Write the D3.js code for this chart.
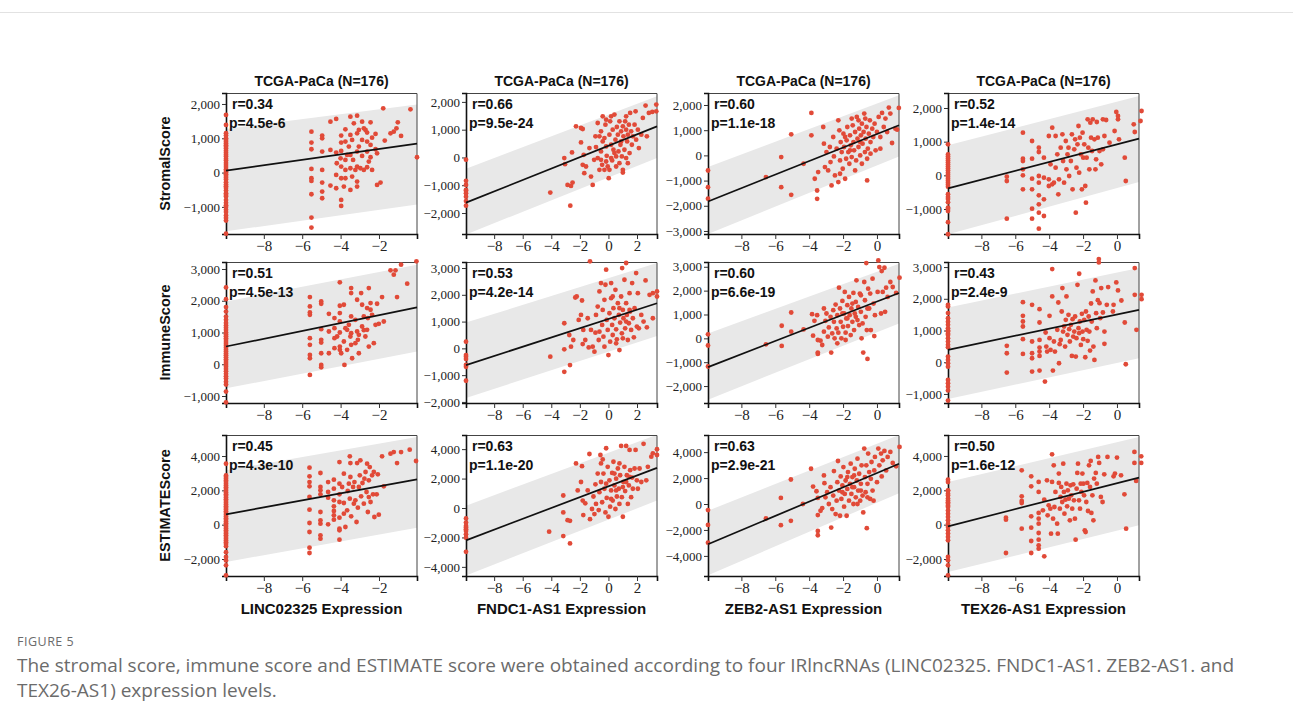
<!DOCTYPE html>
<html lang="en">
<head>
<meta charset="UTF-8">
<title>Figure 5</title>
<style>
html, body { margin: 0; padding: 0; background: #fff; }
svg { display: block; }
.tick text.ylab { font-family: "Liberation Serif", "DejaVu Serif", serif; font-size: 13px; fill: #222; }
.tick text.xlab { font-family: "Liberation Serif", "DejaVu Serif", serif; font-size: 15px; fill: #222; }
.bold { font-family: "Liberation Sans", Arial, sans-serif; font-weight: bold; fill: #111; }
.caption { font-family: "Open Sans", "Noto Sans", sans-serif; fill: #6b6b6b; }
</style>
</head>
<body>
<div id="graph"></div>
<script src="https://d3js.org/d3.v7.min.js"></script>
<script>
// log2(0.001): samples with undetected expression
const X0 = -9.97;

const genes = ["LINC02325", "FNDC1-AS1", "ZEB2-AS1", "TEX26-AS1"];
const scores = ["StromalScore", "ImmuneScore", "ESTIMATEScore"];

const rLabels = [["0.34", "0.66", "0.60", "0.52"], ["0.51", "0.53", "0.60", "0.43"], ["0.45", "0.63", "0.63", "0.50"]];
const pLabels = [["4.5e-6", "9.5e-24", "1.1e-18", "1.4e-14"], ["4.5e-13", "4.2e-14", "6.6e-19", "2.4e-9"], ["4.3e-10", "1.1e-20", "2.9e-21", "1.6e-12"]];

const xDomains = [[-9.97, -0.02], [-9.97, 3.4], [-9.97, 1.3], [-9.97, 1.3]];
const xTicks = [[-8, -6, -4, -2], [-8, -6, -4, -2, 0, 2], [-8, -6, -4, -2, 0], [-8, -6, -4, -2, 0]];

const yDomains = [
  [[-1790, 2320], [-2755, 2320], [-3120, 2476], [-1742, 2445]],
  [[-1220, 3220], [-2040, 3225], [-2710, 3200], [-1285, 3160]],
  [[-2990, 5225], [-4620, 4960], [-5550, 5320], [-2990, 5220]]
];
const yTicks = [
  [[-1000, 0, 1000, 2000], [-2000, -1000, 0, 1000, 2000], [-3000, -2000, -1000, 0, 1000, 2000], [-1000, 0, 1000, 2000]],
  [[-1000, 0, 1000, 2000, 3000], [-2000, -1000, 0, 1000, 2000, 3000], [-2000, -1000, 0, 1000, 2000, 3000], [-1000, 0, 1000, 2000, 3000]],
  [[-2000, 0, 2000, 4000], [-4000, -2000, 0, 2000, 4000], [-4000, -2000, 0, 2000, 4000], [-2000, 0, 2000, 4000]]
];

// regression line and interval band, values at left / right end of x range
const fitLine = [
  [[58, 845], [-1627, 1120], [-1830, 1194], [-386, 1089]],
  [[558, 1789], [-625, 1687], [-1208, 1903], [389, 1653]],
  [[602, 2641], [-2200, 2729], [-3109, 3109], [-97, 2738]]
];
const bandUpper = [
  [[1274, 1983], [-410, 2205], [-464, 2387], [891, 2356]],
  [[1979, 3137], [962, 3187], [208, 3125], [1726, 2968]],
  [[3165, 5107], [160, 4977], [-518, 5311], [2485, 5107]]
];
const bandLower = [
  [[-1711, -933], [-2771, -24], [-3117, -40], [-1752, -198]],
  [[-758, 400], [-1850, 462], [-2569, 625], [-1158, 126]],
  [[-2175, -175], [-4587, 505], [-5492, 829], [-2757, -39]]
];

// ---- StromalScore ----
const stromal_LINC02325_zero = [1680, 1390, 1150, 1080, 1000, 950, 900, 850, 800, 750, 700, 640, 580, 520, 470, 400, 350, 280, 220, 160, 100, 50, 0, -50, -100, -150, -200, -280, -350, -400, -450, -520, -600, -650, -700, -800, -880, -950, -1000, -1080, -1150, -1250, -1320, -1400, -1780];
const stromal_LINC02325 = [[-5.52,1194],[-5.52,874],[-5.52,680],[-5.52,107],[-5.52,-165],[-5.52,-243],[-5.52,-631],[-5.52,-1311],[-5.52,-1602],[-4.96,1078],[-4.96,1000],[-4.96,612],[-4.96,78],[-4.96,-291],[-4.96,-553],[-4.96,-748],[-4.53,1485],[-4.53,660],[-4.53,-379],[-4.23,1563],[-4.23,583],[-4.23,-68],[-4.23,-456],[-3.97,1078],[-3.97,874],[-3.97,631],[-3.97,175],[-3.97,-165],[-3.97,-796],[-3.97,-971],[-3.75,1262],[-3.75,903],[-3.75,369],[-3.75,78],[-3.75,-165],[-3.49,1631],[-3.49,1097],[-3.49,515],[-3.49,126],[-3.49,-505],[-3.4,951],[-3.4,-117],[-3.14,1660],[-3.14,1146],[-3.14,612],[-3.14,175],[-3.14,-262],[-3.14,-408],[-3.05,757],[-2.97,126],[-2.88,1485],[-2.88,951],[-2.88,485],[-2.79,1291],[-2.7,1243],[-2.62,1165],[-2.62,903],[-2.62,612],[-2.62,155],[-2.44,1466],[-2.44,806],[-2.44,447],[-2.36,1019],[-2.18,1126],[-2.18,680],[-2.1,563],[-2.1,-359],[-1.92,-291],[-1.78,1874],[-1.7,932],[-1.4,1146],[-1.23,1194],[-1.09,1291],[-1.02,1466],[-0.85,1068],[-0.36,1845],[-0.02,447],[-3.66,515],[-3.35,369],[-3.23,78],[-2.79,78],[-4.0,417],[-4.2,272],[-3.57,757],[-2.53,320],[-3.05,1243],[-3.31,1437],[-2.36,78],[-3.83,-408]];

const stromal_FNDC1_zero = [-80, -840, -990, -1170, -1200, -1290, -1410, -1570, -1735];
const stromal_FNDC1 = [[-4.07,-1265],[-3.09,-24],[-3.04,-241],[-2.86,-988],[-2.62,-1024],[-2.51,-904],[-2.55,181],[-2.27,1120],[-2.67,-1735],[-1.92,1060],[-1.8,1024],[-1.92,542],[-1.8,-265],[-1.69,-566],[-1.73,96],[-1.57,-325],[-1.33,337],[-1.22,-687],[-1.1,-988],[-1.0,-84],[-0.91,759],[-0.87,373],[-0.75,1241],[-0.75,-24],[-0.63,-446],[-0.52,940],[-0.52,217],[-0.44,-265],[-0.4,1482],[-0.28,699],[-0.28,-446],[-0.21,1181],[-0.16,398],[-0.12,60],[-0.05,-325],[0.02,-747],[0.07,819],[0.12,1301],[0.19,458],[0.19,-24],[0.26,-108],[0.3,1000],[0.35,277],[0.42,1542],[0.49,639],[0.54,36],[0.59,1096],[0.66,819],[0.7,217],[0.77,1301],[0.77,-205],[0.84,458],[0.89,940],[0.94,36],[1.01,1120],[1.01,-446],[1.05,759],[1.12,277],[1.17,1301],[1.24,1000],[1.24,-24],[1.31,578],[1.36,819],[1.43,1181],[1.48,157],[1.52,1602],[1.59,940],[1.64,458],[1.71,759],[1.83,1181],[1.9,1662],[1.94,639],[2.06,1000],[2.13,337],[2.3,819],[2.41,1422],[2.6,1867],[2.69,759],[2.83,1602],[3.07,1639],[3.35,1904],[3.35,1662],[1.36,-205],[1.01,-542],[0.42,157],[0.89,578],[-0.16,1361],[-0.4,578],[-0.63,759],[1.24,1482],[0.19,1482],[-0.16,-145],[0.54,-325],[0.07,-446],[-0.52,-84]];

const stromal_ZEB2_zero = [-600, -1260, -1720];
const stromal_ZEB2 = [[-6.55,-862],[-5.65,-66],[-5.65,-1260],[-5.06,836],[-5.06,-1565],[-4.33,-332],[-3.87,1684],[-3.87,796],[-3.67,-928],[-3.53,-1393],[-3.53,-1724],[-3.47,-663],[-3.17,1127],[-3.13,464],[-3.07,-464],[-2.98,133],[-2.88,-597],[-2.78,332],[-2.74,-265],[-2.68,-1194],[-2.58,729],[-2.54,-40],[-2.48,-796],[-2.38,265],[-2.28,1393],[-2.28,-1061],[-2.22,995],[-2.18,-199],[-2.14,530],[-2.08,133],[-2.02,-530],[-1.98,862],[-1.94,332],[-1.88,-928],[-1.82,-133],[-1.79,597],[-1.75,1127],[-1.69,133],[-1.63,-332],[-1.59,796],[-1.55,398],[-1.49,-66],[-1.43,1194],[-1.39,530],[-1.35,199],[-1.29,928],[-1.23,-199],[-1.19,1525],[-1.15,663],[-1.09,332],[-1.05,1061],[-0.99,0],[-0.95,796],[-0.89,1260],[-0.85,464],[-0.79,928],[-0.75,1658],[-0.71,133],[-0.67,663],[-0.62,1127],[-0.58,-995],[-0.54,265],[-0.48,862],[-0.42,1393],[-0.38,530],[-0.28,1061],[-0.22,729],[-0.14,1260],[-0.08,199],[0.0,928],[0.1,1525],[0.2,729],[0.3,1684],[0.4,1127],[0.5,1459],[0.6,928],[0.7,1897],[0.79,1658],[0.89,491],[1.09,1061],[1.29,1883],[1.19,1021],[-1.88,729],[-1.49,1459],[-1.09,1393],[-0.99,530],[-0.58,-133],[-1.29,-597],[-2.18,-729],[-0.89,-332],[-0.38,66],[0.2,265],[-0.69,1459],[-1.59,199]];

const stromal_TEX26_zero = [921, 620, 560, 500, 440, 380, 320, 260, 200, 140, 80, 20, -40, -100, -160, -220, -280, -340, -560, -640, -700, -800, -960, -1000, -1060, -1390, -1750];
const stromal_TEX26 = [[-6.5,-40],[-6.5,-168],[-6.5,-1287],[-5.55,1267],[-5.55,495],[-5.55,426],[-5.55,178],[-5.55,0],[-5.55,-416],[-5.01,1020],[-5.01,495],[-5.01,-99],[-5.01,-416],[-5.01,-990],[-5.01,-1287],[-4.61,822],[-4.61,693],[-4.61,-20],[-4.61,-218],[-4.61,-594],[-4.61,-861],[-4.61,-1109],[-4.61,-1584],[-4.31,525],[-4.31,-69],[-4.31,-713],[-4.31,-1208],[-4.02,1168],[-4.02,-119],[-4.02,-317],[-3.92,327],[-3.82,1416],[-3.82,-267],[-3.72,-218],[-3.62,1168],[-3.62,228],[-3.52,624],[-3.46,-564],[-3.42,-119],[-3.32,822],[-3.22,1218],[-3.18,426],[-3.12,-218],[-3.02,1020],[-2.98,178],[-2.92,624],[-2.86,822],[-2.82,-20],[-2.72,426],[-2.66,1218],[-2.62,-416],[-2.52,772],[-2.47,1069],[-2.43,-1109],[-2.39,228],[-2.33,921],[-2.27,1465],[-2.23,79],[-2.19,1119],[-2.13,624],[-2.07,-416],[-2.03,1267],[-1.99,525],[-1.93,921],[-1.87,-317],[-1.83,-812],[-1.79,525],[-1.73,1663],[-1.69,822],[-1.63,178],[-1.57,1564],[-1.53,1119],[-1.47,723],[-1.43,1663],[-1.33,1069],[-1.27,178],[-1.19,1584],[-1.13,1119],[-1.03,723],[-0.93,327],[-0.83,1663],[-0.74,1168],[-0.64,1643],[-0.14,1317],[-0.04,1881],[0.06,1762],[0.12,1069],[0.46,525],[0.52,-168],[0.99,1515],[1.05,1287],[1.45,1911],[1.39,1614],[0.06,1663],[-0.44,970],[-0.83,772],[-1.23,475]];

// ---- ImmuneScore ----
const immune_LINC02325_zero = [2420, 2050, 1800, 1660, 1500, 1400, 1300, 1220, 1150, 1080, 1000, 940, 880, 820, 760, 700, 640, 580, 520, 460, 400, 340, 280, 220, 160, 100, 40, -20, -80, -150, -220, -300, -380, -450, -550, -640, -860, -1200];
const immune_LINC02325 = [[-5.6,2116],[-5.6,1821],[-5.6,1632],[-5.6,1558],[-5.6,821],[-5.6,611],[-5.6,295],[-5.6,189],[-5.6,-337],[-5.01,1979],[-5.01,1905],[-5.01,1105],[-5.01,768],[-5.01,684],[-5.01,347],[-5.01,-21],[-5.01,-95],[-4.61,1589],[-4.61,1032],[-4.61,347],[-4.32,1453],[-4.32,1137],[-4.32,821],[-4.32,505],[-4.04,2579],[-4.04,1842],[-4.04,1611],[-4.04,1347],[-4.04,1000],[-4.04,558],[-4.04,453],[-3.97,347],[-3.83,1874],[-3.83,716],[-3.8,-21],[-3.66,1084],[-3.57,1242],[-3.45,2400],[-3.45,2242],[-3.45,1505],[-3.45,979],[-3.45,611],[-3.4,189],[-3.23,1400],[-3.14,2032],[-3.14,1032],[-3.1,768],[-3.05,347],[-2.93,2242],[-2.88,1874],[-2.88,1189],[-2.79,1505],[-2.71,874],[-2.62,1768],[-2.58,1453],[-2.53,2400],[-2.53,558],[-2.44,1926],[-2.36,1558],[-2.27,663],[-2.18,1242],[-2.1,1905],[-2.01,1274],[-1.84,2116],[-1.75,1347],[-1.06,2116],[-1.23,2821],[-1.14,2958],[-0.85,3137],[-0.53,2537],[-0.05,3242],[-1.4,2958],[-3.05,926],[-3.49,874],[-3.75,1137],[-2.79,1074],[-2.44,1716],[-3.23,663],[-3.66,453],[-4.18,874],[-2.62,1084]];

const immune_FNDC1_zero = [250, -250, -310, -400, -620, -690, -1210];
const immune_FNDC1 = [[-4.07,-312],[-3.09,937],[-3.09,-37],[-3.09,-875],[-2.74,500],[-2.62,62],[-2.69,-625],[-2.46,312],[-2.32,1900],[-2.22,1937],[-2.08,1062],[-1.92,1250],[-1.85,1787],[-1.8,162],[-1.76,687],[-1.62,312],[-1.45,1125],[-1.38,37],[-1.29,3250],[-1.22,687],[-1.1,62],[-0.98,-125],[-0.91,587],[-0.87,1250],[-0.75,1562],[-0.68,312],[-0.63,2125],[-0.52,2437],[-0.44,875],[-0.4,1437],[-0.35,437],[-0.28,1812],[-0.21,2375],[-0.16,2937],[-0.12,1062],[-0.05,687],[0.0,-250],[0.07,1312],[0.12,250],[0.19,1875],[0.26,875],[0.3,500],[0.35,1500],[0.42,1125],[0.49,2187],[0.54,712],[0.59,337],[0.66,1687],[0.73,1250],[0.77,-62],[0.82,962],[0.89,1937],[0.94,562],[0.96,3000],[1.01,1437],[1.05,1125],[1.12,2562],[1.17,750],[1.24,3187],[1.24,1687],[1.29,1250],[1.36,312],[1.43,937],[1.48,2062],[1.52,1375],[1.59,687],[1.66,2437],[1.71,1125],[1.78,412],[1.83,1500],[1.94,2812],[1.99,812],[2.06,2062],[2.13,750],[2.3,1250],[2.46,1000],[2.6,2537],[2.69,787],[2.88,2000],[3.11,2062],[3.11,1125],[3.4,2125],[3.4,1937],[0.3,1937],[0.77,1500],[-0.28,62],[1.24,1000],[1.01,375],[0.19,2437],[0.54,187],[1.48,1437],[-0.63,625]];

const immune_ZEB2_zero = [170, -300, -1180];
const immune_ZEB2 = [[-6.55,-250],[-5.62,528],[-5.62,-319],[-5.06,1083],[-5.06,278],[-4.33,375],[-3.83,1014],[-3.77,111],[-3.69,736],[-3.53,972],[-3.49,-69],[-3.49,-597],[-3.49,-653],[-3.33,-97],[-3.23,-278],[-3.13,1250],[-3.13,278],[-3.04,736],[-2.98,1042],[-2.9,69],[-2.84,458],[-2.74,903],[-2.7,-597],[-2.64,208],[-2.58,1180],[-2.54,694],[-2.5,0],[-2.44,1417],[-2.38,417],[-2.34,972],[-2.28,236],[-2.24,2125],[-2.18,1250],[-2.14,694],[-2.1,0],[-2.04,1569],[-2.0,486],[-1.94,1042],[-1.9,1944],[-1.85,236],[-1.81,833],[-1.75,1389],[-1.71,514],[-1.65,1736],[-1.61,972],[-1.55,139],[-1.51,1250],[-1.45,694],[-1.39,1903],[-1.35,347],[-1.31,1042],[-1.25,1528],[-1.21,2431],[-1.15,764],[-1.11,1319],[-1.05,556],[-1.01,1875],[-0.95,1111],[-0.91,0],[-0.85,625],[-0.81,-597],[-0.75,2361],[-0.71,1597],[-0.67,903],[-0.63,3153],[-0.6,347],[-0.56,-861],[-0.52,2083],[-0.46,1250],[-0.4,1875],[-0.36,347],[-0.26,2500],[-0.2,1458],[-0.16,97],[-0.12,972],[0.04,1944],[0.08,3264],[0.14,2986],[0.24,1042],[0.28,2819],[0.34,1944],[0.44,2958],[0.48,1111],[0.54,2125],[0.63,1736],[0.79,2361],[0.93,2153],[1.13,1903],[1.33,2542],[-1.75,833],[-1.25,903],[-0.95,1806],[-2.04,1042],[-2.34,-208],[-1.45,1458],[-0.56,1250],[-1.85,-69]];

const immune_TEX26_zero = [1810, 1760, 1550, 1390, 1280, 1180, 1070, 1000, 970, 900, 860, 760, 650, 550, 470, 180, 70, -30, -140, -560, -660, -770, -890, -1210];
const immune_TEX26 = [[-6.5,516],[-6.5,284],[-6.5,-326],[-5.55,1895],[-5.55,1463],[-5.55,1284],[-5.55,1126],[-5.55,726],[-5.55,263],[-5.01,1810],[-5.01,653],[-5.01,284],[-5.01,126],[-5.01,-295],[-4.57,1674],[-4.57,1253],[-4.57,705],[-4.57,463],[-4.57,337],[-4.57,200],[-4.57,-263],[-4.25,-610],[-4.21,937],[-4.17,495],[-4.12,337],[-3.98,1463],[-3.98,758],[-3.92,389],[-3.82,2937],[-3.82,2074],[-3.78,-263],[-3.72,653],[-3.66,337],[-3.52,1021],[-3.46,1884],[-3.42,-32],[-3.38,568],[-3.32,705],[-3.26,1600],[-3.22,2337],[-3.18,968],[-3.12,1126],[-3.06,495],[-3.02,1337],[-2.98,2074],[-2.92,863],[-2.86,1495],[-2.82,1042],[-2.78,653],[-2.72,1179],[-2.66,200],[-2.62,1358],[-2.58,810],[-2.52,968],[-2.47,1442],[-2.43,179],[-2.39,758],[-2.33,2442],[-2.27,1073],[-2.23,2789],[-2.23,916],[-2.19,1284],[-2.13,547],[-2.07,1526],[-2.03,968],[-1.99,726],[-1.93,1337],[-1.87,158],[-1.83,1600],[-1.79,1021],[-1.73,674],[-1.67,1442],[-1.63,968],[-1.59,368],[-1.53,1852],[-1.49,1284],[-1.43,2232],[-1.39,495],[-1.33,74],[-1.27,2579],[-1.23,1547],[-1.19,1073],[-1.13,1958],[-1.07,3253],[-1.07,3147],[-1.03,1863],[-0.99,1389],[-0.93,2337],[-0.83,1568],[-0.74,968],[-0.74,579],[-0.6,1810],[-0.52,2368],[-0.24,1600],[-0.2,1810],[-0.04,2516],[0.06,2263],[0.26,1947],[0.46,1253],[0.52,-63],[1.05,2968],[1.05,2126],[1.15,1021],[1.45,2126],[1.45,1989]];

// ---- ESTIMATEScore ----
const estimate_LINC02325_zero = [3550, 2870, 2780, 2680, 2580, 2480, 2380, 2280, 2180, 2080, 1980, 1880, 1780, 1680, 1580, 1480, 1380, 1280, 1180, 1080, 980, 880, 780, 680, 580, 480, 380, 280, 180, 80, -20, -120, -220, -320, -420, -520, -620, -720, -820, -920, -1020, -1120, -1250, -1600, -1880, -2080, -2370, -2950];
const estimate_LINC02325 = [[-5.62,3320],[-5.62,2816],[-5.62,2485],[-5.62,2233],[-5.62,1612],[-5.62,874],[-5.62,97],[-5.62,-427],[-5.62,-1340],[-5.62,-1650],[-5.05,3010],[-5.05,2194],[-5.05,2000],[-5.05,1767],[-5.05,738],[-5.05,252],[-5.05,58],[-5.05,-621],[-5.05,-816],[-4.65,2485],[-4.65,1903],[-4.65,1573],[-4.65,19],[-4.35,2621],[-4.35,2097],[-4.35,1417],[-4.35,1068],[-4.35,796],[-4.35,544],[-4.35,291],[-4.06,3650],[-4.06,2388],[-4.06,1767],[-4.06,1320],[-4.06,408],[-4.06,-233],[-4.06,-330],[-4.06,-874],[-3.83,2971],[-3.83,1262],[-3.83,641],[-3.75,-136],[-3.63,1961],[-3.57,2388],[-3.52,3981],[-3.52,1515],[-3.49,3592],[-3.45,485],[-3.35,2194],[-3.28,2485],[-3.23,1417],[-3.17,155],[-3.14,3592],[-3.1,990],[-3.0,2874],[-2.97,3748],[-2.93,1650],[-2.86,2427],[-2.79,1223],[-2.76,2680],[-2.7,3068],[-2.65,1903],[-2.62,3553],[-2.58,738],[-2.53,2582],[-2.48,3359],[-2.44,1320],[-2.36,2874],[-2.31,1767],[-2.27,3068],[-2.24,447],[-2.12,1767],[-2.06,2932],[-2.01,583],[-1.84,3981],[-1.75,2233],[-1.4,4136],[-1.23,4233],[-1.06,3592],[-0.85,4233],[-0.4,4369],[-0.07,3709],[-3.66,835],[-3.31,1223],[-3.05,2194],[-3.49,2777],[-3.92,2194],[-2.53,1611]];

const estimate_FNDC1_zero = [-710, -990, -1220, -1330, -1450, -1560, -1790, -2020, -2980];
const estimate_FNDC1 = [[-4.15,-1606],[-3.16,849],[-3.16,-298],[-3.16,-1904],[-2.86,-826],[-2.69,-872],[-2.69,-2408],[-2.27,3028],[-2.15,1193],[-1.92,1766],[-1.85,2844],[-1.8,505],[-1.76,-482],[-1.62,321],[-1.45,1193],[-1.33,3670],[-1.29,-757],[-1.15,-69],[-1.05,780],[-0.98,-413],[-0.91,1606],[-0.87,275],[-0.75,2339],[-0.68,-138],[-0.63,1078],[-0.56,3601],[-0.52,1766],[-0.44,390],[-0.4,3303],[-0.35,2339],[-0.28,1307],[-0.21,-298],[-0.16,4060],[-0.12,688],[-0.05,2798],[0.0,-596],[0.07,1881],[0.12,92],[0.19,1193],[0.26,2385],[0.3,505],[0.35,3142],[0.42,1537],[0.49,-69],[0.54,1995],[0.59,780],[0.66,2683],[0.73,1307],[0.77,275],[0.82,2224],[0.89,4220],[0.94,734],[1.01,-596],[1.05,1766],[1.12,2798],[1.17,1147],[1.24,4220],[1.29,2224],[1.36,275],[1.43,1537],[1.48,3945],[1.52,2569],[1.59,734],[1.66,2064],[1.71,1307],[1.83,2683],[1.9,3945],[1.99,1881],[2.06,1307],[2.18,2683],[2.3,1766],[2.46,4358],[2.65,1881],[2.76,2798],[3.0,3486],[3.11,3716],[3.4,3991],[3.4,3601],[0.77,3028],[0.42,2339],[1.01,1422],[-0.16,1651],[0.19,620],[1.24,1766],[0.54,1193],[1.48,2110],[-0.52,3028]];

const estimate_ZEB2_zero = [-470, -1610, -2980];
const estimate_ZEB2 = [[-6.55,-1114],[-5.67,466],[-5.67,-1632],[-5.08,1891],[-5.08,-1295],[-4.37,0],[-3.89,2720],[-3.77,1347],[-3.57,984],[-3.49,466],[-3.49,-855],[-3.49,-2073],[-3.49,-2409],[-3.33,-518],[-3.23,-311],[-3.13,2202],[-3.1,1606],[-3.04,518],[-2.94,907],[-2.84,0],[-2.74,1295],[-2.7,-1813],[-2.64,-389],[-2.58,648],[-2.54,2539],[-2.44,-777],[-2.38,259],[-2.34,1684],[-2.3,3316],[-2.24,1036],[-2.18,-907],[-2.14,2124],[-2.1,389],[-2.04,1425],[-1.98,2850],[-1.94,-207],[-1.9,777],[-1.85,1813],[-1.79,-907],[-1.75,1166],[-1.71,2461],[-1.65,259],[-1.59,1554],[-1.55,3109],[-1.51,777],[-1.45,2073],[-1.39,0],[-1.35,1295],[-1.31,2720],[-1.25,518],[-1.19,1813],[-1.15,3497],[-1.11,1036],[-1.05,2332],[-0.99,259],[-0.95,1554],[-0.91,2979],[-0.85,648],[-0.81,-648],[-0.75,4275],[-0.71,2073],[-0.67,907],[-0.63,2979],[-0.6,-1865],[-0.56,1554],[-0.52,3886],[-0.46,2461],[-0.4,389],[-0.36,1943],[-0.32,3238],[-0.26,1036],[-0.2,259],[-0.16,2591],[-0.12,3627],[0.0,1684],[0.08,4275],[0.14,2979],[0.24,3886],[0.28,2124],[0.34,3368],[0.44,4093],[0.54,2591],[0.63,3627],[0.79,4016],[0.93,3161],[1.13,2902],[1.33,4404],[-1.75,2073],[-1.35,2202],[-0.95,1036],[-0.56,518],[-2.04,907],[-1.15,0],[-1.45,1295]];

const estimate_TEX26_zero = [2620, 2480, 2000, 1960, 1800, 1700, 1520, 1400, 1300, 1220, 1100, 1030, 830, 640, 450, 250, 50, -140, -330, -520, -720, -910, -1880, -2080, -2370, -2950];
const estimate_TEX26 = [[-6.55,408],[-6.55,291],[-6.55,-1650],[-5.62,3165],[-5.62,1650],[-5.62,1379],[-5.62,1262],[-5.62,-233],[-5.06,2815],[-5.06,2233],[-5.06,485],[-5.06,-175],[-5.06,-951],[-5.06,-1650],[-4.62,2485],[-4.62,1903],[-4.62,680],[-4.62,350],[-4.62,58],[-4.62,-485],[-4.62,-874],[-4.62,-1204],[-4.62,-1398],[-4.37,835],[-4.29,1456],[-4.29,-1844],[-4.13,2583],[-4.09,544],[-4.03,1126],[-3.93,932],[-3.89,-524],[-3.83,4097],[-3.83,2485],[-3.77,350],[-3.73,3456],[-3.69,1029],[-3.63,1903],[-3.53,58],[-3.49,-524],[-3.43,2971],[-3.43,2427],[-3.37,932],[-3.33,1612],[-3.29,2194],[-3.23,1320],[-3.17,3553],[-3.13,1903],[-3.1,641],[-3.04,1456],[-2.98,2388],[-2.94,1068],[-2.9,2000],[-2.84,1515],[-2.78,252],[-2.74,2291],[-2.7,1709],[-2.64,932],[-2.58,2350],[-2.54,1417],[-2.48,350],[-2.44,-874],[-2.38,2097],[-2.34,3010],[-2.3,3553],[-2.24,1417],[-2.18,932],[-2.14,2388],[-2.1,1903],[-2.04,2971],[-1.98,2388],[-1.94,1709],[-1.9,-330],[-1.85,-427],[-1.81,1320],[-1.75,2427],[-1.71,796],[-1.65,3456],[-1.59,2194],[-1.55,3709],[-1.51,680],[-1.45,1709],[-1.39,252],[-1.35,2680],[-1.25,3010],[-1.19,2388],[-1.11,3942],[-1.05,3592],[-0.95,1612],[-0.85,1320],[-0.75,2932],[-0.56,3942],[-0.2,2815],[-0.12,2971],[0.0,3903],[0.24,2874],[0.44,1767],[0.54,-233],[1.03,4233],[1.03,3592],[1.13,2544],[1.43,3981],[1.43,3592]];

const panelPoints = [
  [[stromal_LINC02325_zero, stromal_LINC02325], [stromal_FNDC1_zero, stromal_FNDC1], [stromal_ZEB2_zero, stromal_ZEB2], [stromal_TEX26_zero, stromal_TEX26]],
  [[immune_LINC02325_zero, immune_LINC02325], [immune_FNDC1_zero, immune_FNDC1], [immune_ZEB2_zero, immune_ZEB2], [immune_TEX26_zero, immune_TEX26]],
  [[estimate_LINC02325_zero, estimate_LINC02325], [estimate_FNDC1_zero, estimate_FNDC1], [estimate_ZEB2_zero, estimate_ZEB2], [estimate_TEX26_zero, estimate_TEX26]]
];

!(function () {
  const width = 1293, height = 722;
  const colLeft = [226, 466, 708, 948];
  const rowTop = [93, 262, 435];
  const plotW = 191, plotH = 141;

  const svg = d3.select("#graph").append("svg")
    .attr("width", width).attr("height", height);

  // thin border at top of the figure box
  svg.append("line")
    .attr("x1", 0).attr("x2", width).attr("y1", 12.5).attr("y2", 12.5)
    .attr("stroke", "#e2e2e2");

  const fmt = d3.format(",");

  scores.forEach((score, r) => {
    genes.forEach((gene, c) => {
      const g = svg.append("g")
        .attr("transform", `translate(${colLeft[c]}, ${rowTop[r]})`);

      const xScale = d3.scaleLinear().domain(xDomains[c]).range([0, plotW]);
      const yScale = d3.scaleLinear().domain(yDomains[r][c]).range([plotH, 0]);
      const xs = xDomains[c];

      // interval band
      const up = bandUpper[r][c], lo = bandLower[r][c];
      g.append("path")
        .attr("d", d3.area()
          .x(d => xScale(d[0]))
          .y0(d => yScale(d[2]))
          .y1(d => yScale(d[1]))([[xs[0], up[0], lo[0]], [xs[1], up[1], lo[1]]]))
        .attr("fill", "#e8e8e8");

      // frame: top and right
      g.append("path")
        .attr("d", `M0,0.5H${plotW}V${plotH}`)
        .attr("fill", "none").attr("stroke", "#444").attr("stroke-width", 1);

      // axes
      const yAxis = d3.axisLeft(yScale).tickValues(yTicks[r][c]).tickFormat(fmt).tickSizeOuter(0).tickSize(4).tickPadding(2);
      const ya = g.append("g").call(yAxis);
      ya.selectAll("text").attr("class", "ylab");
      ya.select(".domain").attr("stroke", "#111").attr("stroke-width", 1.6);
      ya.selectAll(".tick line").attr("stroke", "#333");

      const xAxis = d3.axisBottom(xScale).tickValues(xTicks[c]).tickFormat(d3.format("d")).tickSizeOuter(0).tickSize(5).tickPadding(1);
      const xa = g.append("g").attr("transform", `translate(0, ${plotH})`).call(xAxis);
      xa.selectAll("text").attr("class", "xlab");
      xa.select(".domain").attr("stroke", "#111").attr("stroke-width", 1.6);
      xa.selectAll(".tick line").attr("stroke", "#333");

      // points
      const zero = panelPoints[r][c][0].map(y => [X0, y]);
      const pts = zero.concat(panelPoints[r][c][1]);
      g.selectAll(".dot").data(pts).enter().append("circle")
        .attr("class", "dot")
        .attr("cx", d => xScale(d[0]))
        .attr("cy", d => yScale(d[1]))
        .attr("r", 2.4)
        .attr("fill", "#e14a38");

      // regression line
      const fl = fitLine[r][c];
      g.append("path")
        .attr("d", d3.line().x(d => xScale(d[0])).y(d => yScale(d[1]))([[xs[0], fl[0]], [xs[1], fl[1]]]))
        .attr("stroke", "#111").attr("stroke-width", 1.7).attr("fill", "none");

      // stats
      g.append("text").attr("class", "bold").attr("x", 6).attr("y", 16)
        .attr("font-size", 14).text("r=" + rLabels[r][c]);
      g.append("text").attr("class", "bold").attr("x", 3).attr("y", 35)
        .attr("font-size", 14).text("p=" + pLabels[r][c]);

      if (r === 0) {
        g.append("text").attr("class", "bold")
          .attr("x", plotW / 2).attr("y", -7)
          .attr("text-anchor", "middle").attr("font-size", 14)
          .text("TCGA-PaCa (N=176)");
      }
      if (r === scores.length - 1) {
        g.append("text").attr("class", "bold")
          .attr("x", plotW / 2).attr("y", plotH + 38)
          .attr("text-anchor", "middle").attr("font-size", 15)
          .text(gene + " Expression");
      }
      if (c === 0) {
        g.append("text").attr("class", "bold")
          .attr("transform", `translate(-56, ${plotH / 2}) rotate(-90)`)
          .attr("text-anchor", "middle").attr("font-size", 14.5)
          .text(score);
      }
    });
  });

  // caption
  svg.append("text").attr("class", "caption")
    .attr("x", 17).attr("y", 646).attr("font-size", 12.5).attr("letter-spacing", 0.5)
    .text("FIGURE 5");
  svg.append("text").attr("class", "caption")
    .attr("x", 17).attr("y", 672).attr("font-size", 19)
    .text("The stromal score, immune score and ESTIMATE score were obtained according to four IRlncRNAs (LINC02325. FNDC1-AS1. ZEB2-AS1. and");
  svg.append("text").attr("class", "caption")
    .attr("x", 17).attr("y", 697).attr("font-size", 19)
    .text("TEX26-AS1) expression levels.");
}());
</script>
</body>
</html>
